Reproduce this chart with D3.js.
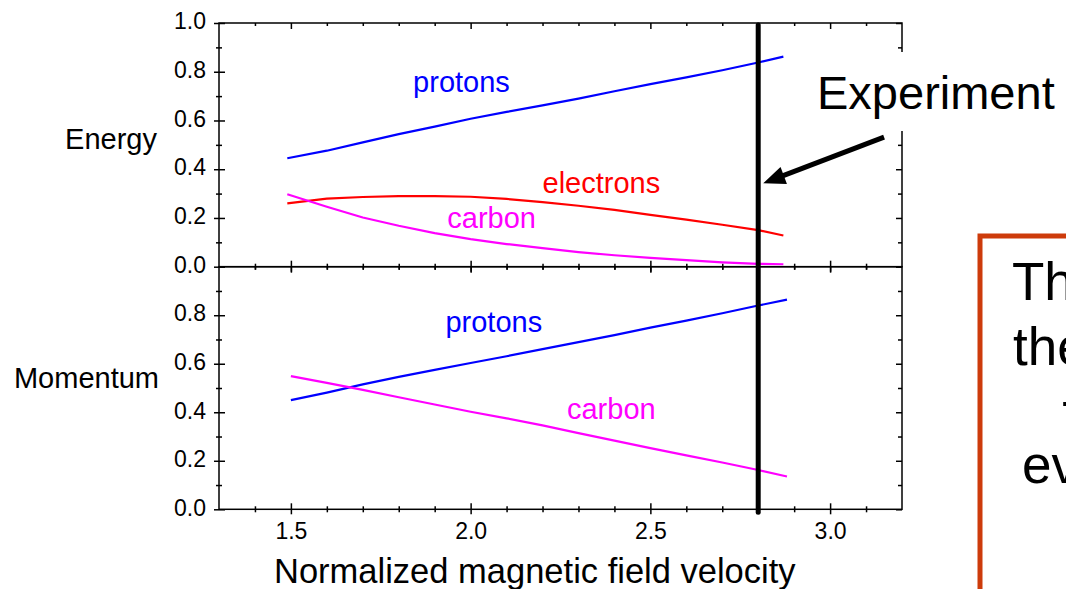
<!DOCTYPE html>
<html>
<head>
<meta charset="utf-8">
<script src="https://cdn.jsdelivr.net/npm/d3@7"></script>
<style>
    html, body { margin: 0; padding: 0; background: #fff; overflow: hidden; }
    svg { display: block; font-family: "Liberation Sans", Arial, sans-serif; }
</style>
</head>
<body>
<div id="chart"></div>
<script>
// Normalized magnetic field velocity (x) for each panel
const energyX = [1.49, 1.6, 1.7, 1.8, 1.9, 2.0, 2.1, 2.2, 2.3, 2.4, 2.5, 2.6, 2.7, 2.8, 2.87];
const momentumX = [1.5, 1.6, 1.7, 1.8, 1.9, 2.0, 2.1, 2.2, 2.3, 2.4, 2.5, 2.6, 2.7, 2.8, 2.88];

// Energy fractions
const energyProtons = [0.445, 0.476, 0.51, 0.544, 0.575, 0.607, 0.635, 0.662, 0.69, 0.72, 0.749, 0.777, 0.806, 0.838, 0.862];
const energyElectrons = [0.26, 0.279, 0.286, 0.29, 0.29, 0.287, 0.278, 0.265, 0.25, 0.233, 0.213, 0.193, 0.172, 0.15, 0.128];
const energyCarbon = [0.297, 0.246, 0.202, 0.168, 0.138, 0.113, 0.093, 0.076, 0.06, 0.047, 0.036, 0.027, 0.018, 0.012, 0.01];

// Momentum fractions
const momentumProtons = [0.45, 0.481, 0.515, 0.546, 0.575, 0.603, 0.631, 0.66, 0.689, 0.718, 0.749, 0.778, 0.808, 0.84, 0.864];
const momentumCarbon = [0.549, 0.521, 0.492, 0.462, 0.432, 0.402, 0.375, 0.346, 0.314, 0.283, 0.252, 0.222, 0.193, 0.162, 0.135];

// Tick values
const energyTicks = [0, 0.2, 0.4, 0.6, 0.8, 1.0];
const momentumTicks = [0, 0.2, 0.4, 0.6, 0.8];
const yMinorTicks = [0.1, 0.3, 0.5, 0.7, 0.9];
const xTicks = [1.5, 2.0, 2.5, 3.0];
const xMinorTicks = [1.4, 1.6, 1.7, 1.8, 1.9, 2.1, 2.2, 2.3, 2.4, 2.6, 2.7, 2.8, 2.9, 3.1];

const experimentX = 2.8;

// Slide text on the right (clipped by the slide edge)
const boxLines = ['The', 'the', 'T', 'ev'];

const width = 1066;
const height = 589;
const frame = { left: 219, right: 902, top: 23, mid: 266.7, bottom: 509.3 };

const svg = d3.select('#chart')
    .append('svg')
    .attr('width', width)
    .attr('height', height);

svg.append('rect').attr('width', width).attr('height', height).attr('fill', '#fff');

// Scales
const x = d3.scaleLinear().domain([1.3, 3.2]).range([frame.left, frame.right]);
const yEnergy = d3.scaleLinear().domain([0, 1]).range([frame.mid, frame.top]);
const yMomentum = d3.scaleLinear().domain([0, 1]).range([frame.bottom, frame.mid]);

const fmt = d3.format('.1f');

// Helper: draw one axis call, strip the domain path, style ticks
function addAxis(axis, transform, withLabels) {
    const g = svg.append('g')
        .attr('transform', transform)
        .call(axis);
    g.select('.domain').remove();
    g.selectAll('line').attr('stroke', '#000').attr('stroke-width', 1.5);
    if (withLabels) {
        g.selectAll('text')
            .attr('fill', '#000')
            .style('font-size', '23px')
            .style('font-family', '"Liberation Sans", Arial, sans-serif');
    } else {
        g.selectAll('text').remove();
    }
    return g;
}

function drawPanel(y, majorTicks, top, bottom, showXLabels) {
    // left axis: outward ticks with labels, inward ticks, minor ticks both sides
    const left = addAxis(d3.axisLeft(y).tickValues(majorTicks).tickSize(5).tickPadding(8).tickFormat(fmt),
        `translate(${frame.left},0)`, true);
    left.selectAll('text').attr('dy', '0.25em');
    addAxis(d3.axisLeft(y).tickValues(majorTicks).tickSize(-6), `translate(${frame.left},0)`, false);
    addAxis(d3.axisLeft(y).tickValues(yMinorTicks).tickSize(3), `translate(${frame.left},0)`, false);
    addAxis(d3.axisLeft(y).tickValues(yMinorTicks).tickSize(-3), `translate(${frame.left},0)`, false);

    // right axis: inward ticks only
    addAxis(d3.axisRight(y).tickValues(majorTicks).tickSize(-6), `translate(${frame.right},0)`, false);
    addAxis(d3.axisRight(y).tickValues(yMinorTicks).tickSize(-4), `translate(${frame.right},0)`, false);

    // bottom axis
    addAxis(d3.axisBottom(x).tickValues(xTicks).tickSize(5).tickPadding(8).tickFormat(fmt),
        `translate(0,${bottom})`, showXLabels);
    addAxis(d3.axisBottom(x).tickValues(xTicks).tickSize(-6), `translate(0,${bottom})`, false);
    addAxis(d3.axisBottom(x).tickValues(xMinorTicks).tickSize(3), `translate(0,${bottom})`, false);
    addAxis(d3.axisBottom(x).tickValues(xMinorTicks).tickSize(-3), `translate(0,${bottom})`, false);

    // top axis: inward ticks
    addAxis(d3.axisTop(x).tickValues(xTicks).tickSize(-6), `translate(0,${top})`, false);
    addAxis(d3.axisTop(x).tickValues(xMinorTicks).tickSize(-3), `translate(0,${top})`, false);

    // frame
    svg.append('rect')
        .attr('x', frame.left)
        .attr('y', top)
        .attr('width', frame.right - frame.left)
        .attr('height', bottom - top)
        .attr('fill', 'none')
        .attr('stroke', '#000')
        .attr('stroke-width', 1.5);
}

drawPanel(yEnergy, energyTicks, frame.top, frame.mid, false);
drawPanel(yMomentum, momentumTicks, frame.mid, frame.bottom, true);

// Curves
function drawCurve(xs, ys, y, color) {
    const pts = xs.map((v, i) => [v, ys[i]]);
    svg.append('path')
        .datum(pts)
        .attr('fill', 'none')
        .attr('stroke', color)
        .attr('stroke-width', 2.2)
        .attr('stroke-linejoin', 'round')
        .attr('d', d3.line().x(d => x(d[0])).y(d => y(d[1])));
}

drawCurve(energyX, energyProtons, yEnergy, '#0000ff');
drawCurve(energyX, energyElectrons, yEnergy, '#ff0000');
drawCurve(energyX, energyCarbon, yEnergy, '#ff00ff');
drawCurve(momentumX, momentumProtons, yMomentum, '#0000ff');
drawCurve(momentumX, momentumCarbon, yMomentum, '#ff00ff');

// Curve labels
function curveLabel(text, xv, yv, y, color) {
    svg.append('text')
        .attr('x', x(xv))
        .attr('y', y(yv))
        .attr('fill', color)
        .style('font-size', '29px')
        .text(text);
}

curveLabel('protons', 1.84, 0.717, yEnergy, '#0000ff');
curveLabel('electrons', 2.2, 0.301, yEnergy, '#ff0000');
curveLabel('carbon', 1.935, 0.157, yEnergy, '#ff00ff');
curveLabel('protons', 1.93, 0.731, yMomentum, '#0000ff');
curveLabel('carbon', 2.268, 0.374, yMomentum, '#ff00ff');

// Row titles
svg.append('text')
    .attr('x', 157)
    .attr('y', 149)
    .attr('text-anchor', 'end')
    .style('font-size', '29px')
    .text('Energy');

svg.append('text')
    .attr('x', 159)
    .attr('y', 388)
    .attr('text-anchor', 'end')
    .style('font-size', '29px')
    .text('Momentum');

// X axis title
svg.append('text')
    .attr('x', 274)
    .attr('y', 583)
    .style('font-size', '34.5px')
    .text('Normalized magnetic field velocity');

// Experiment marker line
svg.append('line')
    .attr('x1', x(experimentX))
    .attr('x2', x(experimentX))
    .attr('y1', frame.top + 2)
    .attr('y2', frame.bottom + 3)
    .attr('stroke', '#000')
    .attr('stroke-width', 5)
    .attr('stroke-linecap', 'round');

// White backing behind the "Experiment" callout
svg.append('rect')
    .attr('x', 800)
    .attr('y', 52)
    .attr('width', 266)
    .attr('height', 79)
    .attr('fill', '#fff');

svg.append('text')
    .attr('x', 817)
    .attr('y', 109)
    .style('font-size', '47px')
    .text('Experiment');

// Arrow from the callout to the marker line
const tail = [x(3.15), yEnergy(0.532)];
const tip = [x(experimentX) + 5, yEnergy(0.342)];
const dx = tip[0] - tail[0], dy = tip[1] - tail[1];
const len = Math.hypot(dx, dy);
const ux = dx / len, uy = dy / len;
const headLen = 22, headHalf = 9;
const base = [tip[0] - ux * headLen, tip[1] - uy * headLen];

svg.append('line')
    .attr('x1', tail[0]).attr('y1', tail[1])
    .attr('x2', base[0] + ux * 2).attr('y2', base[1] + uy * 2)
    .attr('stroke', '#000')
    .attr('stroke-width', 5);

svg.append('polygon')
    .attr('points', [
        tip,
        [base[0] - uy * headHalf, base[1] + ux * headHalf],
        [base[0] + uy * headHalf, base[1] - ux * headHalf]
    ].map(p => p.join(',')).join(' '))
    .attr('fill', '#000');

// Boxed slide text on the right edge
svg.append('rect')
    .attr('x', 980)
    .attr('y', 236)
    .attr('width', 200)
    .attr('height', 420)
    .attr('fill', '#fff')
    .attr('stroke', '#cd3b0b')
    .attr('stroke-width', 5);

const boxX = [1012, 1013, 1062, 1022];
const boxY = [300, 365, 439, 483];
boxLines.forEach((t, i) => {
    svg.append('text')
        .attr('x', boxX[i])
        .attr('y', boxY[i])
        .style('font-size', '53px')
        .text(t);
});
</script>
</body>
</html>
